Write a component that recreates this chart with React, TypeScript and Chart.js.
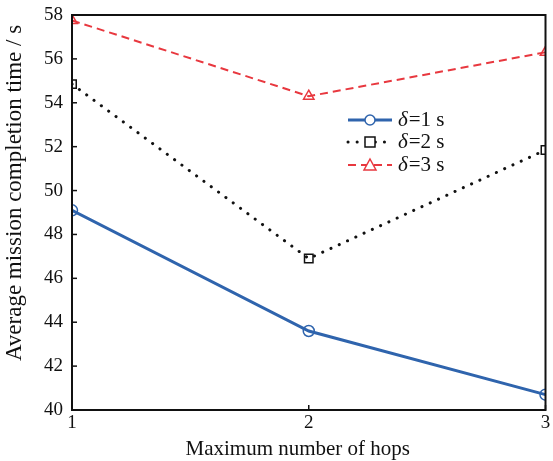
import React, { useEffect, useRef } from "react";
import { Chart, registerables } from "chart.js";

Chart.register(...registerables);

const hops = [1, 2, 3];
const delta1 = [49.1, 43.6, 40.7];
const delta2 = [54.85, 46.9, 51.85];
const delta3 = [57.75, 54.3, 56.3];
const yTicks = [40, 42, 44, 46, 48, 50, 52, 54, 56, 58];
const legendLabels = ["1 s", "2 s", "3 s"];
const xTitle = "Maximum number of hops";
const yTitle = "Average mission completion time / s";

const BLUE = "#2f64ad";
const RED = "#e8383f";
const BLACK = "#111111";
const FONT = "'Liberation Serif', 'Times New Roman', serif";

const framePlugin = {
  id: "frameAndLegend",
  afterDatasetsDraw(chart: any) {
    const { ctx, chartArea: a, scales } = chart;
    ctx.save();
    ctx.strokeStyle = "#111";
    ctx.lineWidth = 2;
    ctx.setLineDash([]);
    ctx.strokeRect(a.left, a.top, a.right - a.left, a.bottom - a.top);
    ctx.lineWidth = 1.5;
    for (const v of yTicks) {
      const y = scales.y.getPixelForValue(v);
      ctx.beginPath();
      ctx.moveTo(a.left, y);
      ctx.lineTo(a.left + 5, y);
      ctx.stroke();
    }
    for (const v of hops) {
      const x = scales.x.getPixelForValue(v);
      ctx.beginPath();
      ctx.moveTo(x, a.bottom);
      ctx.lineTo(x, a.bottom - 5);
      ctx.stroke();
    }
    // axis titles
    ctx.fillStyle = "#111";
    ctx.textAlign = "center";
    ctx.textBaseline = "middle";
    ctx.font = `21px ${FONT}`;
    ctx.fillText(xTitle, (a.left + a.right) / 2 - 11, a.bottom + 39);
    ctx.save();
    ctx.translate(15, a.top + 178);
    ctx.rotate(-Math.PI / 2);
    ctx.font = `23px ${FONT}`;
    ctx.fillText(yTitle, 0, 0);
    ctx.restore();
    // legend
    const lx0 = a.left + 276;
    const lx1 = a.left + 320;
    const rows = [a.top + 105, a.top + 127, a.top + 150];
    const metas = chart.data.datasets;
    rows.forEach((ry: number, i: number) => {
      const ds = metas[i];
      ctx.strokeStyle = ds.borderColor;
      ctx.lineWidth = ds.borderWidth;
      ctx.setLineDash(ds.borderDash || []);
      ctx.lineCap = ds.borderCapStyle || "butt";
      ctx.beginPath();
      ctx.moveTo(lx0, ry);
      ctx.lineTo(lx1, ry);
      ctx.stroke();
      ctx.setLineDash([]);
      ctx.lineCap = "butt";
      ctx.lineWidth = 1.5;
      ctx.fillStyle = "#fff";
      const mx = (lx0 + lx1) / 2;
      const r = 5;
      ctx.beginPath();
      if (ds.pointStyle === "circle") {
        ctx.arc(mx, ry, r, 0, Math.PI * 2);
      } else if (ds.pointStyle === "rect") {
        ctx.rect(mx - r, ry - r, 2 * r, 2 * r);
      } else {
        ctx.moveTo(mx, ry - r - 1);
        ctx.lineTo(mx + r + 1, ry + r);
        ctx.lineTo(mx - r - 1, ry + r);
        ctx.closePath();
      }
      ctx.fill();
      ctx.stroke();
      ctx.fillStyle = "#111";
      ctx.textBaseline = "middle";
      ctx.textAlign = "left";
      ctx.font = `italic 21px ${FONT}`;
      const tx = lx1 + 6;
      ctx.fillText("δ", tx, ry);
      const w = ctx.measureText("δ").width;
      ctx.font = `21px ${FONT}`;
      ctx.fillText("=" + legendLabels[i], tx + w + 1, ry);
    });
    ctx.restore();
  },
};

export default function App() {
  const ref = useRef<HTMLCanvasElement | null>(null);
  useEffect(() => {
    if (!ref.current) return;
    const mk = (data: number[]) => data.map((v, i) => ({ x: hops[i], y: v }));
    const chart = new Chart(ref.current, {
      type: "line",
      data: {
        datasets: [
          {
            label: "δ=1 s",
            data: mk(delta1),
            borderColor: BLUE,
            backgroundColor: "rgba(255,255,255,0)",
            borderWidth: 3,
            pointStyle: "circle",
            pointRadius: 5.5,
            pointBorderWidth: 1.5,
            pointBorderColor: BLUE,
            pointBackgroundColor: "rgba(255,255,255,0)",
          },
          {
            label: "δ=2 s",
            data: mk(delta2),
            borderColor: BLACK,
            backgroundColor: "rgba(255,255,255,0)",
            borderWidth: 3,
            borderDash: [0.1, 9],
            borderCapStyle: "round",
            pointStyle: "rect",
            pointRadius: 6,
            pointBorderWidth: 1.5,
            pointBorderColor: BLACK,
            pointBackgroundColor: "rgba(255,255,255,0)",
          },
          {
            label: "δ=3 s",
            data: mk(delta3),
            borderColor: RED,
            backgroundColor: "rgba(255,255,255,0)",
            borderWidth: 2,
            borderDash: [8, 5],
            pointStyle: "triangle",
            pointRadius: 6,
            pointBorderWidth: 1.5,
            pointBorderColor: RED,
            pointBackgroundColor: "rgba(255,255,255,0)",
          },
        ] as any,
      },
      options: {
        animation: false,
        responsive: false,
        maintainAspectRatio: false,
        layout: { padding: { top: 15, right: 6, left: 0, bottom: 0 } },
        plugins: { legend: { display: false }, tooltip: { enabled: false } },
        elements: { line: { tension: 0 } },
        scales: {
          x: {
            type: "linear",
            min: 1,
            max: 3,
            grid: { display: false, drawTicks: false },
            border: { display: false },
            ticks: {
              stepSize: 1,
              color: "#111",
              padding: 2,
              font: { family: FONT, size: 19 },
            },
            afterFit: (s: any) => {
              s.height = 51;
              s.paddingLeft = 0;
              s.paddingRight = 0;
            },
          },
          y: {
            type: "linear",
            min: 40,
            max: 58,
            grid: { display: false, drawTicks: false },
            border: { display: false },
            afterBuildTicks: (s: any) => {
              s.ticks = yTicks.map((v) => ({ value: v }));
            },
            ticks: {
              color: "#111",
              padding: 9,
              font: { family: FONT, size: 19 },
            },
            afterFit: (s: any) => {
              s.width = 72;
              s.paddingTop = 0;
              s.paddingBottom = 0;
            },
          },
        },
      },
      plugins: [framePlugin],
    } as any);
    return () => chart.destroy();
  }, []);
  return (
    <div style={{ position: "fixed", left: 0, top: 0, width: 553, height: 461, background: "#fff" }}>
      <canvas ref={ref} width={553} height={461} style={{ width: 553, height: 461 }} />
    </div>
  );
}
